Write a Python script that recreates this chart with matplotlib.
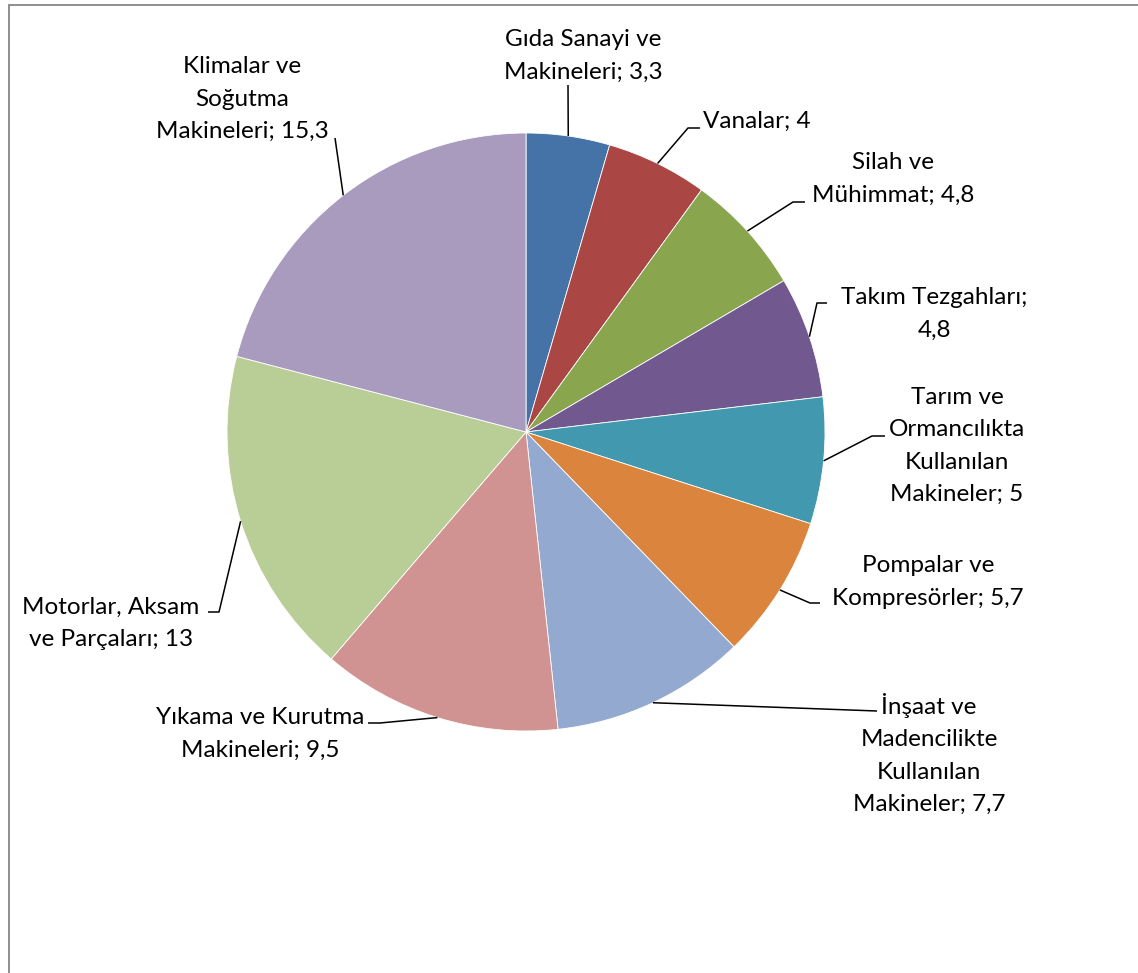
import numpy as np
import matplotlib
matplotlib.use("Agg")
import matplotlib.pyplot as plt
from matplotlib.patches import Rectangle

categories = ["Gıda Sanayi ve Makineleri", "Vanalar", "Silah ve Mühimmat",
              "Takım Tezgahları", "Tarım ve Ormancılıkta Kullanılan Makineler",
              "Pompalar ve Kompresörler", "İnşaat ve Madencilikte Kullanılan Makineler",
              "Yıkama ve Kurutma Makineleri", "Motorlar, Aksam ve Parçaları",
              "Klimalar ve Soğutma Makineleri"]
values = [3.3, 4, 4.8, 4.8, 5, 5.7, 7.7, 9.5, 13, 15.3]
colors = ["#4572A7", "#AA4643", "#89A54E", "#71588F", "#4198AF",
          "#DB843D", "#93A9CF", "#D19392", "#B9CD96", "#A99BBD"]

# layout (pixel coordinates, top-left origin)
W, H = 1138, 973
line_breaks = [[3], [], [2], [2], [2, 3, 4], [2], [2, 3, 4], [3], [2], [2, 3]]
label_pos = [(583, 56), (757, 121), (893, 179), (934, 314), (957, 446),
             (928, 582), (929, 754), (260, 734), (111, 623), (242, 99)]
leader_start = [(568, 85), (700, 128), (805, 202), (827, 303), (885, 436),
                (820, 603), (877, 711), (368, 723), (208, 612), (335, 138)]
leader_elbow = [None, (688, 128), (793, 202), (817, 303), (872, 436),
                (810, 603), None, (380, 723), (219, 612), None]
cx, cy, R = 526, 432, 299

plt.rcParams['font.family'] = ['Lato', 'DejaVu Sans']

fig = plt.figure(figsize=(W / 100, H / 100), dpi=100)
ax = fig.add_axes([0, 0, 1, 1])
wedges, _ = ax.pie(values, colors=colors, startangle=90, counterclock=False,
                   center=(cx, H - cy), radius=R, frame=True,
                   wedgeprops=dict(edgecolor="white", linewidth=0.6))
ax.set_xlim(0, W)
ax.set_ylim(0, H)
ax.axis("off")

def fmt(v):
    return f"{v:g}".replace(".", ",")

for i, (cat, v) in enumerate(zip(categories, values)):
    tokens = f"{cat}; {fmt(v)}".split(" ")
    lines, cur = [], []
    for j, t in enumerate(tokens):
        if j in line_breaks[i]:
            lines.append(" ".join(cur))
            cur = []
        cur.append(t)
    lines.append(" ".join(cur))
    text = "\n".join(lines)
    lx, ly = label_pos[i]
    ax.text(lx, H - ly, text, ha="center", va="center", multialignment="center",
            fontsize=17.5, linespacing=1.65, color="black")
    w = wedges[i]
    th = np.deg2rad((w.theta1 + w.theta2) / 2)
    ex = cx + R * np.cos(th)
    ey = (H - cy) + R * np.sin(th)
    pts = [leader_start[i]]
    if leader_elbow[i] is not None:
        pts.append(leader_elbow[i])
    xs = [p[0] for p in pts] + [ex]
    ys = [H - p[1] for p in pts] + [ey]
    ax.plot(xs, ys, color="black", linewidth=1.1, solid_capstyle="butt")

fig.patches.append(Rectangle((8.5, -50), W + 100, H - 4.5 + 50, transform=None,
                             fill=False, edgecolor="#868686", linewidth=1.3))

fig.savefig("out.png", dpi=100, facecolor="white")
